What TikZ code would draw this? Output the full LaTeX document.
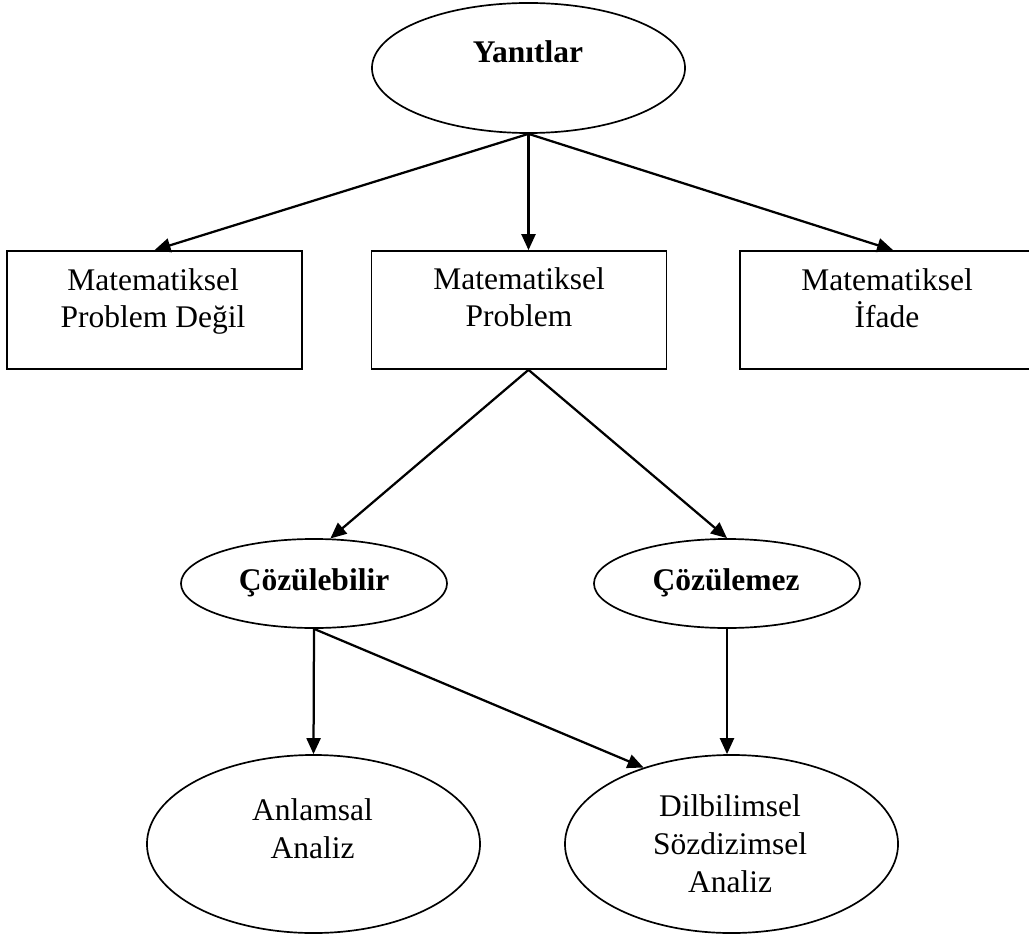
\documentclass[tikz,border=0pt]{standalone}
\usepackage{fontspec}
\setmainfont{Liberation Serif}
\usetikzlibrary{shapes.geometric}
\usetikzlibrary{arrows.meta}
\usetikzlibrary{positioning}

\tikzset{
  kutu/.style={draw, line width=1.2pt, minimum width=7.375cm, minimum height=2.95cm},
  elips/.style={draw, ellipse, line width=1.2pt, inner sep=0pt},
  yazi/.style={align=center, anchor=base, inner sep=0pt, font=\fontsize{22.4}{27}\selectfont},
  kalin/.style={yazi, font=\fontsize{22.4}{27}\selectfont\bfseries},
  ok/.style={-{Triangle[length=0.4cm,width=0.35cm]}, line width=1.6pt}
}

\begin{document}
\begin{tikzpicture}[x=0.025cm, y=-0.025cm]
  \useasboundingbox (0,0) rectangle (1029,937);
  \node[elips, minimum width=7.825cm, minimum height=3.25cm] (yan) at (528.5,68) {};
  \node[kalin] (t-yan) at (528,63) {Yanıtlar};

  \node[kutu] (b1) at (154.5,310) {};
  \node[kutu] (b2) at (519,310) {};
  \node[kutu] (b3) at (887.5,310) {};
  \node[yazi] (t-b1) at (153,328) {Matematiksel\\Problem Değil};
  \node[yazi] (t-b2) at (519,327) {Matematiksel\\Problem};
  \node[yazi] (t-b3) at (887,328) {Matematiksel\\İfade};

  \node[elips, minimum width=6.65cm, minimum height=2.225cm] (cozb) at (314,583.5) {};
  \node[elips, minimum width=6.65cm, minimum height=2.225cm] (coz) at (727,583.5) {};
  \node[kalin] (t-cozb) at (314,590) {Çözülebilir};
  \node[kalin] (t-coz) at (726,590) {Çözülemez};

  \node[elips, minimum width=8.325cm, minimum height=4.45cm] (anl) at (313.5,844) {};
  \node[elips, minimum width=8.325cm, minimum height=4.45cm] (dil) at (731.5,844) {};
  \node[yazi] (t-anl) at (312.5,858) {Anlamsal\\Analiz};
  \node[yazi] (t-dil) at (730,892) {Dilbilimsel\\Sözdizimsel\\Analiz};

  \coordinate (ayrim) at (yan.south |- b2.south);
  \draw[ok] (yan.south) -- (b1.north);
  \draw[ok] (yan.south) -- (yan.south |- b2.north);
  \draw[ok] (yan.south) -- ([xshift=0.14cm]b3.north);
  \draw[ok] (ayrim) -- (cozb.70);
  \draw[ok] (ayrim) -- (coz.north);
  \draw[ok] (cozb.south) -- (anl.north);
  \draw[ok] (cozb.south) -- (dil.139);
  \draw[ok] (coz.south) -- (coz.south |- dil.north);
\end{tikzpicture}
\end{document}
